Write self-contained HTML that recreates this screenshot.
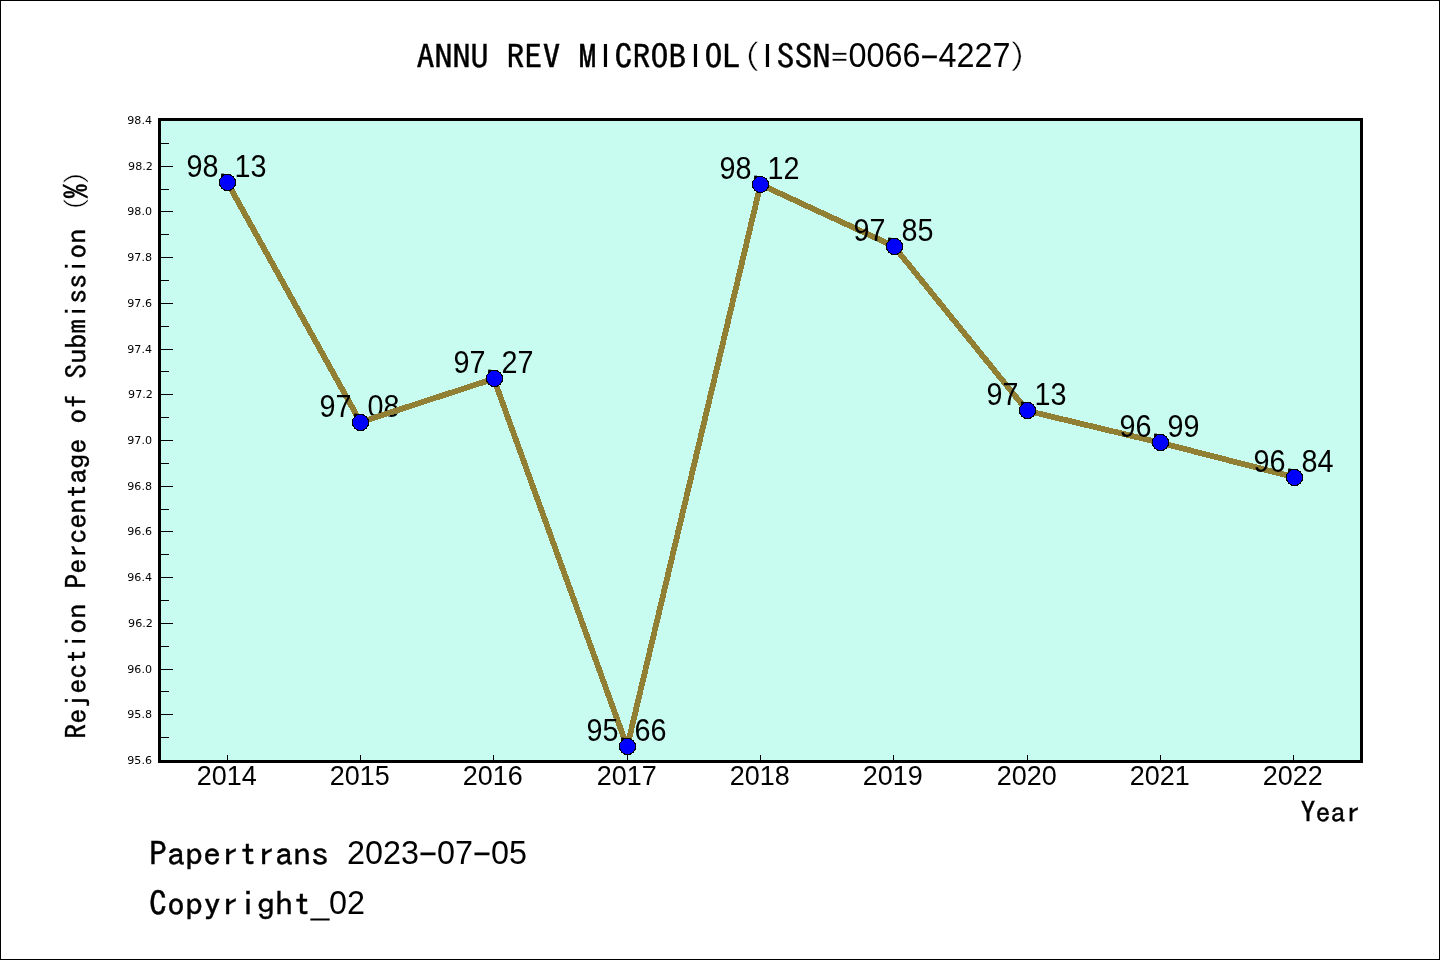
<!DOCTYPE html>
<html lang="en"><head><meta charset="utf-8">
<title>ANNU REV MICROBIOL (ISSN=0066-4227) - Rejection Percentage of Submission</title>
<style>
html,body{margin:0;padding:0;background:#ffffff;}
body{width:1440px;height:960px;overflow:hidden;}
svg{display:block;}
text{fill:#000;white-space:pre;}
.m{font-family:"IPAGothic","Liberation Mono",monospace;stroke:#000;stroke-width:0.35px;}
.m.thin{stroke:#fff;stroke-width:0.4px;}
.d{font-family:"Liberation Sans","DejaVu Sans",sans-serif;}
.t{font-family:"DejaVu Sans","Liberation Sans",sans-serif;}
</style></head><body>
<svg width="1440" height="960" viewBox="0 0 1440 960">
<!-- figure background + 1px frame -->
<rect x="0" y="0" width="1440" height="960" fill="#ffffff"/>
<rect x="0.5" y="0.5" width="1439" height="959" fill="none" stroke="#000" stroke-width="1" shape-rendering="crispEdges"/>
<!-- plot area -->
<rect x="160" y="120" width="1201" height="641" fill="#c9fcf0" shape-rendering="crispEdges"/>
<!-- ticks -->
<g fill="#000" shape-rendering="crispEdges">
<rect x="161" y="737" width="8" height="1"/>
<rect x="161" y="714" width="12" height="1"/>
<rect x="161" y="691" width="8" height="1"/>
<rect x="161" y="669" width="12" height="1"/>
<rect x="161" y="646" width="8" height="1"/>
<rect x="161" y="623" width="12" height="1"/>
<rect x="161" y="600" width="8" height="1"/>
<rect x="161" y="577" width="12" height="1"/>
<rect x="161" y="554" width="8" height="1"/>
<rect x="161" y="531" width="12" height="1"/>
<rect x="161" y="509" width="8" height="1"/>
<rect x="161" y="486" width="12" height="1"/>
<rect x="161" y="463" width="8" height="1"/>
<rect x="161" y="440" width="12" height="1"/>
<rect x="161" y="417" width="8" height="1"/>
<rect x="161" y="394" width="12" height="1"/>
<rect x="161" y="371" width="8" height="1"/>
<rect x="161" y="349" width="12" height="1"/>
<rect x="161" y="326" width="8" height="1"/>
<rect x="161" y="303" width="12" height="1"/>
<rect x="161" y="280" width="8" height="1"/>
<rect x="161" y="257" width="12" height="1"/>
<rect x="161" y="234" width="8" height="1"/>
<rect x="161" y="211" width="12" height="1"/>
<rect x="161" y="189" width="8" height="1"/>
<rect x="161" y="166" width="12" height="1"/>
<rect x="161" y="143" width="8" height="1"/>
<rect x="227" y="755" width="1" height="5"/>
<rect x="360" y="755" width="1" height="5"/>
<rect x="493" y="755" width="1" height="5"/>
<rect x="627" y="755" width="1" height="5"/>
<rect x="760" y="755" width="1" height="5"/>
<rect x="893" y="755" width="1" height="5"/>
<rect x="1027" y="755" width="1" height="5"/>
<rect x="1160" y="755" width="1" height="5"/>
<rect x="1293" y="755" width="1" height="5"/>
</g>
<!-- y tick labels -->
<g class="t" font-size="11.1" text-anchor="end">
<text x="152" y="764.0">95.6</text>
<text x="152" y="718.0">95.8</text>
<text x="152" y="673.0">96.0</text>
<text x="152.8" y="627.0">96.2</text>
<text x="152" y="581.0">96.4</text>
<text x="152" y="535.0">96.6</text>
<text x="152" y="490.0">96.8</text>
<text x="152" y="444.0">97.0</text>
<text x="152.8" y="398.0">97.2</text>
<text x="152" y="353.0">97.4</text>
<text x="152" y="307.0">97.6</text>
<text x="152" y="261.0">97.8</text>
<text x="152" y="215.0">98.0</text>
<text x="152.8" y="170.0">98.2</text>
<text x="152" y="124.0">98.4</text>
</g>
<!-- value labels and line segments (painter order as in the reference) -->
<g>
<text class="d" font-size="30.9"><tspan x="186.6" y="176.5" textLength="32" lengthAdjust="spacingAndGlyphs">98</tspan><tspan x="218.2" y="176.5">.</tspan><tspan x="234.6" y="176.5" textLength="32" lengthAdjust="spacingAndGlyphs">13</tspan></text>
<line x1="227.17" y1="182.21" x2="360.50" y2="422.21" stroke="#917f34" stroke-width="5.8" stroke-linecap="round" shape-rendering="crispEdges"/>
<text class="d" font-size="30.9"><tspan x="319.6" y="416.5" textLength="32" lengthAdjust="spacingAndGlyphs">97</tspan><tspan x="351.2" y="416.5">.</tspan><tspan x="367.6" y="416.5" textLength="32" lengthAdjust="spacingAndGlyphs">08</tspan></text>
<line x1="360.50" y1="422.21" x2="493.83" y2="378.79" stroke="#917f34" stroke-width="5.8" stroke-linecap="round" shape-rendering="crispEdges"/>
<text class="d" font-size="30.9"><tspan x="453.6" y="372.5" textLength="32" lengthAdjust="spacingAndGlyphs">97</tspan><tspan x="485.2" y="372.5">.</tspan><tspan x="501.6" y="372.5" textLength="32" lengthAdjust="spacingAndGlyphs">27</tspan></text>
<line x1="493.83" y1="378.79" x2="627.17" y2="746.79" stroke="#917f34" stroke-width="5.8" stroke-linecap="round" shape-rendering="crispEdges"/>
<text class="d" font-size="30.9"><tspan x="586.6" y="740.5" textLength="32" lengthAdjust="spacingAndGlyphs">95</tspan><tspan x="618.2" y="740.5">.</tspan><tspan x="634.6" y="740.5" textLength="32" lengthAdjust="spacingAndGlyphs">66</tspan></text>
<line x1="627.17" y1="746.79" x2="760.50" y2="184.50" stroke="#917f34" stroke-width="5.8" stroke-linecap="round" shape-rendering="crispEdges"/>
<text class="d" font-size="30.9"><tspan x="719.6" y="178.5" textLength="32" lengthAdjust="spacingAndGlyphs">98</tspan><tspan x="751.2" y="178.5">.</tspan><tspan x="767.6" y="178.5" textLength="32" lengthAdjust="spacingAndGlyphs">12</tspan></text>
<line x1="760.50" y1="184.50" x2="893.83" y2="246.21" stroke="#917f34" stroke-width="5.8" stroke-linecap="round" shape-rendering="crispEdges"/>
<text class="d" font-size="30.9"><tspan x="853.6" y="240.5" textLength="32" lengthAdjust="spacingAndGlyphs">97</tspan><tspan x="885.2" y="240.5">.</tspan><tspan x="901.6" y="240.5" textLength="32" lengthAdjust="spacingAndGlyphs">85</tspan></text>
<line x1="893.83" y1="246.21" x2="1027.17" y2="410.79" stroke="#917f34" stroke-width="5.8" stroke-linecap="round" shape-rendering="crispEdges"/>
<text class="d" font-size="30.9"><tspan x="986.6" y="404.5" textLength="32" lengthAdjust="spacingAndGlyphs">97</tspan><tspan x="1018.2" y="404.5">.</tspan><tspan x="1034.6" y="404.5" textLength="32" lengthAdjust="spacingAndGlyphs">13</tspan></text>
<line x1="1027.17" y1="410.79" x2="1160.50" y2="442.79" stroke="#917f34" stroke-width="5.8" stroke-linecap="round" shape-rendering="crispEdges"/>
<text class="d" font-size="30.9"><tspan x="1119.6" y="436.5" textLength="32" lengthAdjust="spacingAndGlyphs">96</tspan><tspan x="1151.2" y="436.5">.</tspan><tspan x="1167.6" y="436.5" textLength="32" lengthAdjust="spacingAndGlyphs">99</tspan></text>
<line x1="1160.50" y1="442.79" x2="1293.83" y2="477.07" stroke="#917f34" stroke-width="5.8" stroke-linecap="round" shape-rendering="crispEdges"/>
<text class="d" font-size="30.9"><tspan x="1253.6" y="471.5" textLength="32" lengthAdjust="spacingAndGlyphs">96</tspan><tspan x="1285.2" y="471.5">.</tspan><tspan x="1301.6" y="471.5" textLength="32" lengthAdjust="spacingAndGlyphs">84</tspan></text>
</g>
<!-- markers -->
<g fill="#0000ff" stroke="#000" stroke-width="1" shape-rendering="crispEdges">
<circle cx="227.5" cy="182.5" r="8.1"/>
<circle cx="360.5" cy="422.5" r="8.1"/>
<circle cx="494.5" cy="378.5" r="8.1"/>
<circle cx="627.5" cy="746.5" r="8.1"/>
<circle cx="760.5" cy="184.5" r="8.1"/>
<circle cx="894.5" cy="246.5" r="8.1"/>
<circle cx="1027.5" cy="410.5" r="8.1"/>
<circle cx="1160.5" cy="442.5" r="8.1"/>
<circle cx="1294.5" cy="477.5" r="8.1"/>
</g>
<!-- axes frame -->
<rect x="159.5" y="119.5" width="1202" height="642" fill="none" stroke="#000" stroke-width="3" shape-rendering="crispEdges"/>
<!-- x tick labels -->
<g class="d" font-size="27.8">
<text x="196.7" y="785.3" textLength="60" lengthAdjust="spacingAndGlyphs">2014</text>
<text x="329.7" y="785.3" textLength="60" lengthAdjust="spacingAndGlyphs">2015</text>
<text x="462.7" y="785.3" textLength="60" lengthAdjust="spacingAndGlyphs">2016</text>
<text x="596.7" y="785.3" textLength="60" lengthAdjust="spacingAndGlyphs">2017</text>
<text x="729.7" y="785.3" textLength="60" lengthAdjust="spacingAndGlyphs">2018</text>
<text x="862.7" y="785.3" textLength="60" lengthAdjust="spacingAndGlyphs">2019</text>
<text x="996.7" y="785.3" textLength="60" lengthAdjust="spacingAndGlyphs">2020</text>
<text x="1129.7" y="785.3" textLength="60" lengthAdjust="spacingAndGlyphs">2021</text>
<text x="1262.7" y="785.3" textLength="60" lengthAdjust="spacingAndGlyphs">2022</text>
</g>
<!-- axis titles -->
<text xml:space="preserve"><tspan class="m" font-size="27.9" x="1300.5" y="821.72" textLength="60" lengthAdjust="spacingAndGlyphs">Year</tspan></text>
<text xml:space="preserve" transform="translate(84.3 738.7) rotate(-90)"><tspan class="m" font-size="27.6" x="0" y="1.41" textLength="525" lengthAdjust="spacingAndGlyphs">Rejection Percentage of Submission </tspan><tspan class="m thin" font-size="27.6" x="527" y="1.41" textLength="15" lengthAdjust="spacingAndGlyphs">(</tspan><tspan class="m" font-size="27.6" x="540" y="1.41" textLength="15" lengthAdjust="spacingAndGlyphs">%</tspan><tspan class="m thin" font-size="27.6" x="553.5" y="1.41" textLength="15" lengthAdjust="spacingAndGlyphs">)</tspan></text>
<!-- title -->
<text xml:space="preserve"><tspan class="m" font-size="33.4" x="416.5" y="68.9" textLength="180" lengthAdjust="spacingAndGlyphs">ANNU REV M</tspan><tspan class="d" font-size="33.98" x="600.78" y="67.2">I</tspan><tspan class="m" font-size="33.4" x="614.5" y="68.9" textLength="72" lengthAdjust="spacingAndGlyphs">CROB</tspan><tspan class="d" font-size="33.98" x="690.78" y="67.2">I</tspan><tspan class="m" font-size="33.4" x="704.5" y="68.9" textLength="36" lengthAdjust="spacingAndGlyphs">OL</tspan><tspan class="m thin" font-size="33.4" x="742.9" y="68.9" textLength="18" lengthAdjust="spacingAndGlyphs">(</tspan><tspan class="d" font-size="33.98" x="762.78" y="67.2">I</tspan><tspan class="m" font-size="33.4" x="776.5" y="68.9" textLength="54" lengthAdjust="spacingAndGlyphs">SSN</tspan><tspan class="m thin" font-size="33.4" x="830.5" y="68.9" textLength="18" lengthAdjust="spacingAndGlyphs">=</tspan><tspan class="d" font-size="34.3" x="848.5" y="67.2" textLength="72" lengthAdjust="spacingAndGlyphs">0066</tspan><tspan class="m" font-size="33.4" x="920.5" y="68.9" textLength="18" lengthAdjust="spacingAndGlyphs">-</tspan><tspan class="d" font-size="34.3" x="938.5" y="67.2" textLength="72" lengthAdjust="spacingAndGlyphs">4227</tspan><tspan class="m thin" font-size="33.4" x="1008.7" y="68.9" textLength="18" lengthAdjust="spacingAndGlyphs">)</tspan></text>
<!-- footer -->
<text xml:space="preserve"><tspan class="m" font-size="32.7" x="149" y="865.77" textLength="198" lengthAdjust="spacingAndGlyphs">Papertrans </tspan><tspan class="d" font-size="32.8" x="347" y="864.1" textLength="72" lengthAdjust="spacingAndGlyphs">2023</tspan><tspan class="m" font-size="32.7" x="419" y="865.77" textLength="18" lengthAdjust="spacingAndGlyphs">-</tspan><tspan class="d" font-size="32.8" x="437" y="864.1" textLength="36" lengthAdjust="spacingAndGlyphs">07</tspan><tspan class="m" font-size="32.7" x="473" y="865.77" textLength="18" lengthAdjust="spacingAndGlyphs">-</tspan><tspan class="d" font-size="32.8" x="491" y="864.1" textLength="36" lengthAdjust="spacingAndGlyphs">05</tspan></text>
<text xml:space="preserve"><tspan class="m" font-size="32.7" x="149" y="915.77" textLength="162" lengthAdjust="spacingAndGlyphs">Copyright</tspan><tspan class="m" font-size="32.7" x="311" y="915.77" textLength="18" lengthAdjust="spacingAndGlyphs" style="stroke-width:1.2px">_</tspan><tspan class="d" font-size="32.8" x="329" y="914.1" textLength="36" lengthAdjust="spacingAndGlyphs">02</tspan></text>
</svg>
</body></html>
